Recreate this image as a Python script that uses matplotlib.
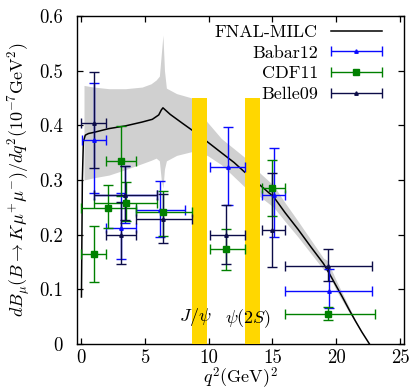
import numpy as np
import matplotlib
matplotlib.use('Agg')
import matplotlib.pyplot as plt
from matplotlib.legend_handler import HandlerErrorbar
from matplotlib.container import ErrorbarContainer

# ---------------- data ----------------
theory_q2 = [0.05, 0.12, 0.2, 0.35, 0.6, 1.0, 2.2, 3.5, 4.8, 5.6, 6.1, 6.3, 6.43,
             7.0, 8.0, 8.72, 9.9, 11.0, 12.0, 12.8, 14.06, 15.1, 16.0, 17.0, 18.0,
             19.0, 19.5, 20.0, 20.5, 21.0, 21.5, 22.0, 22.3, 22.6]
theory_val = [0.086, 0.30, 0.37, 0.382, 0.385, 0.387, 0.394, 0.399, 0.406, 0.411,
              0.419, 0.428, 0.432, 0.42, 0.403, 0.391, 0.37, 0.35, 0.332, 0.315,
              0.29, 0.269, 0.240, 0.210, 0.178, 0.147, 0.127, 0.106, 0.085, 0.063,
              0.042, 0.022, 0.011, 0.0]

band_q2 = [0.25, 1.0, 2.2, 3.5, 4.8, 5.5, 5.9, 6.15, 6.3, 6.43, 6.55, 6.7, 7.5,
           8.7, 9.9, 11.0, 12.8, 14.06, 15.1, 16.0, 17.0, 18.0, 19.0, 19.3, 20.0,
           21.0, 21.5, 22.0, 22.6]
band_lo = [0.300, 0.304, 0.309, 0.319, 0.330, 0.336, 0.340, 0.335, 0.300, 0.285,
           0.320, 0.335, 0.345, 0.352, 0.345, 0.328, 0.288, 0.269, 0.250, 0.224,
           0.196, 0.166, 0.136, 0.133, 0.098, 0.058, 0.040, 0.021, 0.0]
band_hi = [0.473, 0.470, 0.467, 0.467, 0.470, 0.476, 0.483, 0.490, 0.530, 0.565,
           0.500, 0.468, 0.458, 0.450, 0.406, 0.376, 0.342, 0.312, 0.290, 0.258,
           0.225, 0.191, 0.157, 0.153, 0.116, 0.068, 0.044, 0.023, 0.0]

veto_lo = [8.68, 12.86]
veto_hi = [9.9, 14.0]
veto_top = 0.45

babar_q2 = [1.05, 3.15, 3.46, 6.21, 11.5, 15.1, 19.4]
babar_lo = [0.13, 2.0, 1.0, 4.3, 10.11, 14.21, 16.0]
babar_hi = [2.0, 4.3, 6.0, 8.12, 12.89, 16.0, 22.8]
babar_val = [0.373, 0.213, 0.272, 0.245, 0.323, 0.272, 0.0975]
babar_elo = [0.277, 0.156, 0.222, 0.196, 0.255, 0.195, 0.066]
babar_ehi = [0.478, 0.277, 0.326, 0.299, 0.397, 0.358, 0.138]

cdf_q2 = [1.0, 2.16, 3.13, 3.5, 6.43, 11.4, 14.97, 19.32]
cdf_lo = [0.0, 0.0, 2.0, 1.0, 4.3, 10.09, 14.18, 16.0]
cdf_hi = [2.0, 4.3, 4.3, 6.0, 8.68, 12.86, 16.0, 23.0]
cdf_val = [0.165, 0.249, 0.335, 0.258, 0.241, 0.173, 0.286, 0.054]
cdf_elo = [0.113, 0.212, 0.270, 0.225, 0.197, 0.135, 0.234, 0.043]
cdf_ehi = [0.216, 0.291, 0.399, 0.297, 0.280, 0.210, 0.336, 0.067]

belle_q2 = [1.04, 3.13, 3.46, 6.43, 11.4, 14.97, 19.32]
belle_lo = [0.0, 2.0, 1.0, 4.3, 10.09, 14.18, 16.0]
belle_hi = [2.0, 4.3, 6.0, 8.68, 12.86, 16.0, 22.8]
belle_val = [0.405, 0.199, 0.272, 0.228, 0.199, 0.208, 0.143]
belle_elo = [0.322, 0.146, 0.227, 0.185, 0.146, 0.141, 0.116]
belle_ehi = [0.497, 0.260, 0.326, 0.275, 0.255, 0.313, 0.173]

xticks = [0, 5, 10, 15, 20, 25]
yticks = [0, 0.1, 0.2, 0.3, 0.4, 0.5, 0.6]
ytick_labels = ['0', '0.1', '0.2', '0.3', '0.4', '0.5', '0.6']

# ---------------- style ----------------
plt.rcParams['font.family'] = 'serif'
plt.rcParams['font.serif'] = ['cmr10', 'DejaVu Serif']
plt.rcParams['mathtext.fontset'] = 'cm'
plt.rcParams['axes.formatter.use_mathtext'] = True

FS = 13
fig = plt.figure(figsize=(4.11, 3.91), dpi=100)
ax = fig.add_axes([0.1873, 0.1202, 0.7956, 0.8389])

ax.fill_between(band_q2, band_lo, band_hi, color='#d0d0d0', lw=0, zorder=1)
theory_line, = ax.plot(theory_q2, theory_val, color='black', lw=1.1, zorder=2)

for lo, hi in zip(veto_lo, veto_hi):
    ax.bar((lo + hi) / 2, veto_top, width=hi - lo, bottom=0, color='#ffd700',
           lw=0, zorder=3)

ax.text(8.98, 0.049, r'$J/\psi$', ha='center', va='center', fontsize=FS, zorder=5)
ax.text(13.1, 0.047, r'$\psi(2S)$', ha='center', va='center', fontsize=FS, zorder=5)


def draw(q2, lo, hi, val, elo, ehi, color, marker, ms, label):
    q2 = np.asarray(q2); val = np.asarray(val)
    xerr = [q2 - np.asarray(lo), np.asarray(hi) - q2]
    yerr = [val - np.asarray(elo), np.asarray(ehi) - val]
    eb = ax.errorbar(q2, val, xerr=xerr, yerr=yerr, fmt=marker, color=color,
                     ms=ms, mec=color, mfc=color, elinewidth=1.0, capsize=3.5,
                     capthick=1.0, zorder=4, label=label)
    return eb


eb_babar = draw(babar_q2, babar_lo, babar_hi, babar_val, babar_elo, babar_ehi,
                '#0a0aff', '^', 2.5, 'Babar12')
eb_cdf = draw(cdf_q2, cdf_lo, cdf_hi, cdf_val, cdf_elo, cdf_ehi,
              '#008000', 's', 4.5, 'CDF11')
eb_belle = draw(belle_q2, belle_lo, belle_hi, belle_val, belle_elo, belle_ehi,
                '#0c0c48', '^', 2.5, 'Belle09')

ax.set_xlim(-0.3, 25.3)
ax.set_ylim(0, 0.6)
ax.set_xticks(xticks)
ax.set_xticklabels([str(t) for t in xticks])
ax.set_yticks(yticks)
ax.set_yticklabels(ytick_labels)
ax.tick_params(direction='in', top=True, right=True, length=4.5, width=0.9,
               labelsize=13.5)
ax.tick_params(axis='x', pad=4)
ax.tick_params(axis='y', pad=10)
for s in ax.spines.values():
    s.set_linewidth(1.0)

ax.set_xlabel(r'$q^2(\mathrm{GeV})^2$', fontsize=FS, labelpad=-1.5)
ax.set_ylabel(r'$dB_{\mu}(B\rightarrow K\mu^{+}\mu^{-})/dq^2(10^{-7}\mathrm{GeV}^2)$',
              fontsize=FS, labelpad=5)

proxies = [ErrorbarContainer(eb.lines, has_xerr=True, has_yerr=False)
           for eb in (eb_babar, eb_cdf, eb_belle)]
handles = [theory_line] + proxies
labels = ['FNAL-MILC', 'Babar12', 'CDF11', 'Belle09']
ax.legend(handles, labels, loc='upper right', bbox_to_anchor=(0.933, 0.975),
          frameon=False, markerfirst=False, handlelength=2.85, handletextpad=0.7,
          borderpad=0, borderaxespad=0, labelspacing=0.28, fontsize=FS,
          numpoints=1,
          handler_map={ErrorbarContainer: HandlerErrorbar(xerr_size=1.42, numpoints=1)})

fig.savefig('out.png', dpi=100)
